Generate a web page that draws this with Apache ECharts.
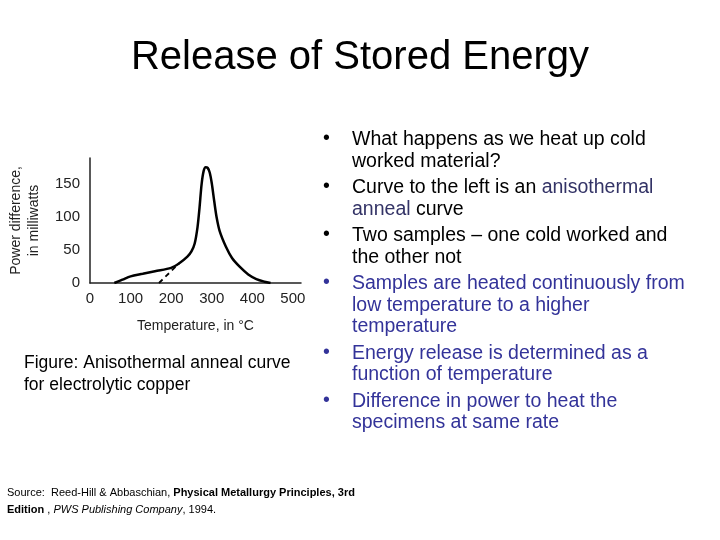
<!DOCTYPE html>
<html>
<head>
<meta charset="utf-8">
<script src="https://cdn.jsdelivr.net/npm/echarts@6/dist/echarts.min.js"></script>
<style>
  html, body { margin: 0; padding: 0; background: #fff; }
  #chart { width: 720px; height: 540px; }
</style>
</head>
<body>
<div id="chart"></div>
<script>
// anneal curve (temperature in C, power difference in mW)
const curveTemp = [60, 80, 100, 130, 160, 200, 220, 240, 250, 258, 265, 270, 275, 280, 285, 290, 295, 300, 306, 312, 320, 335, 350, 370, 390, 410, 430, 445];
const curvePower = [0, 5, 10, 14, 18, 23, 30, 40, 48, 60, 85, 115, 150, 170, 176, 175, 168, 152, 125, 100, 78, 55, 38, 24, 13, 6, 2, 0];
const dashTemp = [170, 220];
const dashPower = [0, 30];
const xTicks = [0, 100, 200, 300, 400, 500];
const yTicks = [0, 50, 100, 150];

const bullets = [
  { lines: ["What happens as we heat up cold", "worked material?"] },
  { lines: ["Curve to the left is an {b|anisothermal}", "{b|anneal} curve"] },
  { lines: ["Two samples \u2013 one cold worked and", "the other not"] },
  { lines: ["Samples are heated continuously from", "low temperature to a higher", "temperature"], color: "#333399" },
  { lines: ["Energy release is determined as a", "function of temperature"], color: "#333399" },
  { lines: ["Difference in power to heat the", "specimens at same rate"], color: "#333399" },
];

const font = "Liberation Sans, Arial, sans-serif";
const graphics = [
  { type: "text", left: "center", top: 38, style: { text: "Release of Stored Energy", font: "40px " + font, fill: "#000" } },
  { type: "text", left: 24, top: 352, style: { text: "Figure: Anisothermal anneal curve\nfor electrolytic copper", font: "17.5px " + font, lineHeight: 22, fill: "#000" } },
  { type: "text", left: 7, top: 484, style: {
      text: "Source:  Reed-Hill & Abbaschian, {u|Physical Metallurgy Principles, 3rd}\n{u|Edition }, {i|PWS Publishing Company}, 1994.",
      font: "11px " + font, lineHeight: 17, fill: "#000",
      rich: { u: { fontWeight: "bold", fontSize: 11, fontFamily: font, textDecoration: "underline" }, i: { fontStyle: "italic", fontSize: 11, fontFamily: font } }
  } },
];

let y = 129;
bullets.forEach((b) => {
  const col = b.color || "#000";
  graphics.push({ type: "text", left: 323, top: y, style: { text: "\u2022", font: "19.5px " + font, fill: col } });
  graphics.push({ type: "text", left: 352, top: y, style: {
    text: b.lines.join("\n"), font: "19.5px " + font, lineHeight: 21.5, fill: col,
    rich: { b: { fill: "#333366", color: "#333366", fontSize: 19.5, fontFamily: font } }
  } });
  y += b.lines.length * 21.5 + 5;
});

const chart = echarts.init(document.getElementById("chart"));
chart.setOption({
  animation: false,
  graphic: graphics,
  grid: { left: 90, top: 158, width: 211, height: 125 },
  xAxis: {
    type: "value", min: 0, max: 520, interval: 100,
    name: "Temperature, in \u00b0C", nameLocation: "middle", nameGap: 36,
    nameTextStyle: { fontFamily: font, fontSize: 14, color: "#222" },
    axisLine: { lineStyle: { color: "#222", width: 1.5 } },
    axisTick: { show: false },
    axisLabel: { fontFamily: font, fontSize: 15, color: "#222", showMaxLabel: false, margin: 8,
      formatter: (v) => (xTicks.includes(v) ? String(v) : "") },
    splitLine: { show: false },
  },
  yAxis: {
    type: "value", min: 0, max: 190, interval: 50,
    name: "Power difference,\nin milliwatts", nameLocation: "middle", nameGap: 47, nameRotate: 90,
    nameTextStyle: { fontFamily: font, fontSize: 14, color: "#222", lineHeight: 18 },
    axisLine: { show: true, lineStyle: { color: "#222", width: 1.5 } },
    axisTick: { show: false },
    axisLabel: { fontFamily: font, fontSize: 15, color: "#222", showMaxLabel: false, margin: 10,
      formatter: (v) => (yTicks.includes(v) ? String(v) : "") },
    splitLine: { show: false },
  },
  series: [
    { type: "line", smooth: 0.3, symbol: "none", lineStyle: { color: "#000", width: 2.5 },
      data: curveTemp.map((t, i) => [t, curvePower[i]]) },
    { type: "line", symbol: "none", lineStyle: { color: "#000", width: 1.8, type: [5, 4] },
      data: dashTemp.map((t, i) => [t, dashPower[i]]) },
  ],
});
</script>
</body>
</html>
